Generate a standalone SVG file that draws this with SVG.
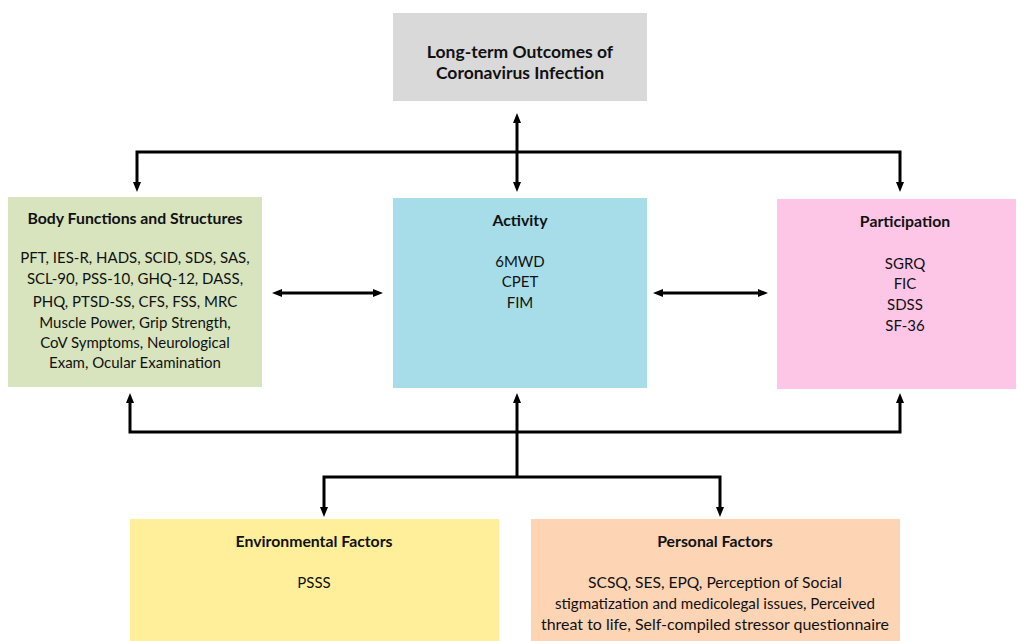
<svg xmlns="http://www.w3.org/2000/svg" width="1017" height="641" viewBox="0 0 1017 641">
<defs>
<marker id="ah" viewBox="0 0 10 8" refX="4" refY="4" markerWidth="10" markerHeight="8" markerUnits="userSpaceOnUse" orient="auto-start-reverse">
<path d="M0,0 L10,4 L0,8 z" fill="#000"/>
</marker>
<style>
.t{font-family:Lato,"Open Sans","Liberation Sans",sans-serif;font-size:15px;fill:#111;text-anchor:middle}
.b{font-weight:bold;font-size:15.8px}
.h{font-size:17.5px}
.c{fill:none;stroke:#000;stroke-width:3}
</style>
</defs>
<rect width="1017" height="641" fill="#fff"/>
<g id="outcomes">
<rect x="393" y="13" width="254" height="88" fill="#d9d9d9"/>
<text class="t b h" x="520" y="58">Long-term Outcomes of</text>
<text class="t b h" x="520" y="79">Coronavirus Infection</text>
</g>
<g id="body">
<rect x="8" y="197" width="254" height="190" fill="#d7e4bd"/>
<text class="t b" x="135" y="224">Body Functions and Structures</text>
<text class="t" x="135" y="263">PFT, IES-R, HADS, SCID, SDS, SAS,</text>
<text class="t" x="135" y="284">SCL-90, PSS-10, GHQ-12, DASS,</text>
<text class="t" x="135" y="307">PHQ, PTSD-SS, CFS, FSS, MRC</text>
<text class="t" x="135" y="328">Muscle Power, Grip Strength,</text>
<text class="t" x="135" y="348">CoV Symptoms, Neurological</text>
<text class="t" x="135" y="368">Exam, Ocular Examination</text>
</g>
<g id="activity">
<rect x="393" y="198" width="254" height="190" fill="#a6dde8"/>
<text class="t b" x="520" y="226">Activity</text>
<text class="t" x="520" y="267">6MWD</text>
<text class="t" x="520" y="287">CPET</text>
<text class="t" x="520" y="308">FIM</text>
</g>
<g id="participation">
<rect x="777" y="199" width="239" height="190" fill="#fdc6e6"/>
<text class="t b" x="905" y="227">Participation</text>
<text class="t" x="905" y="269">SGRQ</text>
<text class="t" x="905" y="289">FIC</text>
<text class="t" x="905" y="310">SDSS</text>
<text class="t" x="905" y="331">SF-36</text>
</g>
<g id="environmental">
<rect x="130" y="519" width="369" height="122" fill="#ffef9a"/>
<text class="t b" x="314" y="547">Environmental Factors</text>
<text class="t" x="314" y="588">PSSS</text>
</g>
<g id="personal">
<rect x="531" y="519" width="369" height="122" fill="#fdd4b4"/>
<text class="t b" x="715" y="547">Personal Factors</text>
<text class="t" x="715" y="588" textLength="254" lengthAdjust="spacingAndGlyphs">SCSQ, SES, EPQ, Perception of Social</text>
<text class="t" x="715" y="609" textLength="320" lengthAdjust="spacingAndGlyphs">stigmatization and medicolegal issues, Perceived</text>
<text class="t" x="715" y="630" textLength="348" lengthAdjust="spacingAndGlyphs">threat to life, Self-compiled stressor questionnaire</text>
</g>
<g id="connectors">
<path class="c" d="M517,119 V186" marker-start="url(#ah)" marker-end="url(#ah)"/>
<path class="c" d="M137,186 V152 H900 V186" marker-start="url(#ah)" marker-end="url(#ah)"/>
<path class="c" d="M278,293 H377" marker-start="url(#ah)" marker-end="url(#ah)"/>
<path class="c" d="M659,293 H762" marker-start="url(#ah)" marker-end="url(#ah)"/>
<path class="c" d="M130,399 V432 H900 V399" marker-start="url(#ah)" marker-end="url(#ah)"/>
<path class="c" d="M517,477 V399" marker-end="url(#ah)"/>
<path class="c" d="M324,511 V477 H720 V511" marker-start="url(#ah)" marker-end="url(#ah)"/>
</g>
</svg>
